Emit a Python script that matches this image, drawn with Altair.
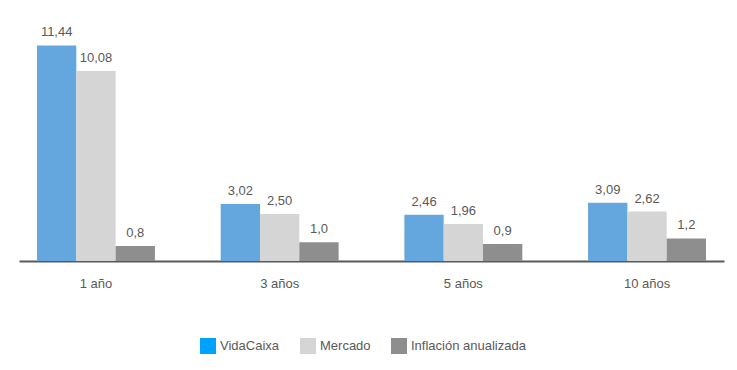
import altair as alt
import pandas as pd

categories = ["1 año", "3 años", "5 años", "10 años"]
series = ["VidaCaixa", "Mercado", "Inflación anualizada"]
vidacaixa = [11.44, 3.02, 2.46, 3.09]
mercado = [10.08, 2.50, 1.96, 2.62]
inflacion = [0.8, 1.0, 0.9, 1.2]
decimals = [2, 2, 1]
bar_colors = ["#64a7de", "#d5d5d5", "#8e8e8e"]
legend_colors = ["#00a2ff", "#d5d5d5", "#8e8e8e"]

rows = []
for s, vals, d in zip(series, [vidacaixa, mercado, inflacion], decimals):
    for c, v in zip(categories, vals):
        rows.append({"cat": c, "serie": s, "valor": v,
                     "etiqueta": f"{v:.{d}f}".replace(".", ",")})
df = pd.DataFrame(rows)

FONT = "Liberation Sans"
TXT = "#595959"

base = alt.Chart(df).encode(
    x=alt.X("cat:N", sort=categories,
            scale=alt.Scale(paddingInner=0.358, paddingOuter=0.098),
            axis=alt.Axis(title=None, labelAngle=0, ticks=False, domainColor=TXT,
                          domainWidth=2, labelFont=FONT, labelFontSize=13,
                          labelColor=TXT, labelPadding=16, grid=False)),
    xOffset=alt.XOffset("serie:N", sort=series,
                        scale=alt.Scale(paddingInner=0, paddingOuter=0)),
    y=alt.Y("valor:Q", scale=alt.Scale(domain=[0, 13], nice=False, zero=True), axis=None),
)

bars = base.mark_bar().encode(
    color=alt.Color("serie:N", sort=series,
                    scale=alt.Scale(domain=series, range=bar_colors), legend=None)
)

labels = base.mark_text(baseline="alphabetic", dy=-9, font=FONT, fontSize=13,
                        color=TXT).encode(text="etiqueta:N")

legend_layer = base.mark_square(size=0, opacity=0).encode(
    color=alt.Color("serie:N", sort=series,
                    scale=alt.Scale(domain=series, range=legend_colors),
                    legend=alt.Legend(title=None, orient="none", direction="horizontal",
                                      legendX=181, legendY=322, padding=0,
                                      symbolType="square", symbolSize=256,
                                      symbolOpacity=1, symbolStrokeWidth=0,
                                      labelFont=FONT, labelFontSize=13,
                                      labelColor=TXT, labelOffset=4,
                                      columnPadding=20))
)

chart = alt.layer(bars, labels, legend_layer).resolve_scale(
    color="independent"
).properties(
    width=705, height=245,
    padding={"left": 11, "top": 8, "right": 5, "bottom": 101},
    autosize=alt.AutoSizeParams(type="none"),
).configure_view(stroke=None)

chart.save("out.html", embed_options={"renderer": "svg", "actions": False})
